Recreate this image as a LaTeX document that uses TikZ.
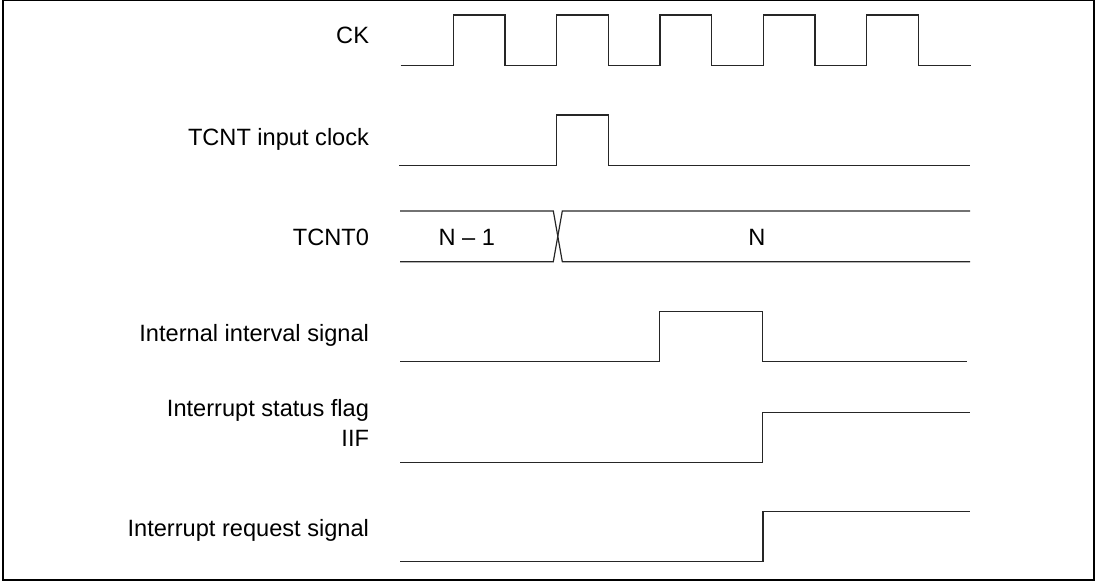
\documentclass[tikz,border=0pt]{standalone}
\usepackage{fontspec}
\setmainfont{Liberation Sans}
\usetikzlibrary{positioning}

\begin{document}
\begin{tikzpicture}[x=0.5pt,y=-0.5pt,
    every node/.style={font=\fontsize{11.8}{15}\selectfont, inner sep=0pt, outer sep=0pt},
    sig/.style={anchor=base east, align=right},
    wave/.style={line width=0.6pt, black!85, line join=miter}]
      \useasboundingbox (0,0) rectangle (1096,581);
      \draw[line width=1pt] (3,0.5) rectangle (1094.3,580);

      % signal names
      \node[sig] (lck)   at (369,44)    {CK};
      \node[sig] (lin)   at (369,146)   {TCNT input clock};
      \node[sig] (ltc)   at (369,245.5) {TCNT0};
      \node[sig] (lint)  at (369,341.7) {Internal interval signal};
      \node[sig] (liif)  at (369,446.7) {Interrupt status flag\\IIF};
      \node[sig] (lirq)  at (369,536.7) {Interrupt request signal};

      % CK
      \draw[wave] (400.7,65.7)
        \foreach \k in {0,...,4} {
          -- ({453.3+103.33*\k},65.7) -- ({453.3+103.33*\k},15)
          -- ({505+103.33*\k},15) -- ({505+103.33*\k},65.7)
        } -- (971,65.7);

      % TCNT input clock
      \draw[wave] (399,165.7) -- (556.7,165.7) -- (556.7,115) -- (608.3,115)
        -- (608.3,165.7) -- (970,165.7);

      % TCNT0
      \draw[wave] (400,211) -- (553.3,211) -- (562.3,261.7) -- (970,261.7);
      \draw[wave] (400,261.7) -- (553.3,261.7) -- (562.3,211) -- (970,211);
      \node[anchor=base] (vold) at (466.7,246) {N -- 1};
      \node[anchor=base] (vnew) at (757,246) {N};

      % Internal interval signal
      \draw[wave] (400,361.7) -- (659.3,361.7) -- (659.3,311.7) -- (762.3,311.7)
        -- (762.3,361.7) -- (967,361.7);

      % IIF
      \draw[wave] (400,462.7) -- (762.3,462.7) -- (762.3,412.7) -- (970,412.7);

      % Interrupt request signal
      \draw[wave] (400,561.7) -- (763,561.7) -- (763,511.7) -- (970,511.7);
    \end{tikzpicture}
\end{document}
